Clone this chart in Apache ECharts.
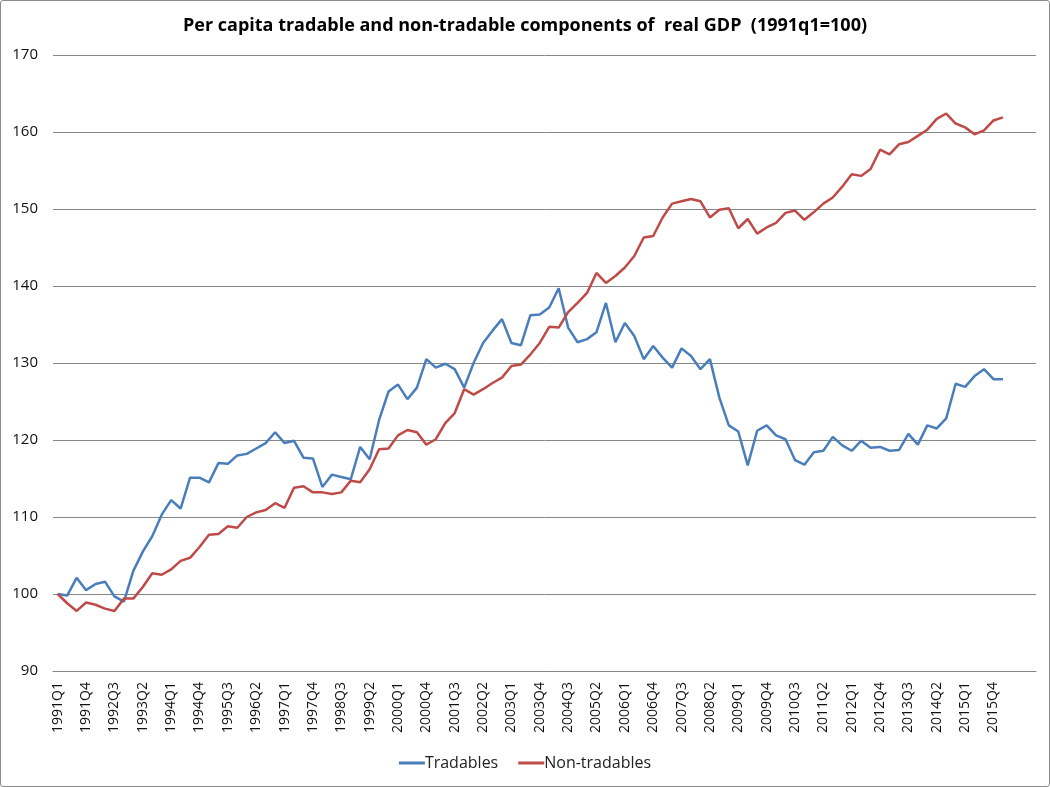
<!DOCTYPE html>
<html>
<head>
<meta charset="utf-8">
<script src="https://cdn.jsdelivr.net/npm/echarts@6/dist/echarts.min.js"></script>
<style>
html,body{margin:0;padding:0;background:#fff;}
#frame{position:absolute;left:0;top:0;width:1048px;height:785px;border:1px solid #8a8a8a;border-radius:3px;}
#chart{position:absolute;left:0;top:0;width:1050px;height:787px;}
</style>
</head>
<body>
<div id="frame"></div>
<div id="chart"></div>
<script>
// Quarterly categories 1991Q1..2016Q1, plus empty trailing slots on the axis
const startYear = 1991, endYear = 2016, endQuarter = 1;
const categories = [];
for (let y = startYear; y <= endYear; y++) {
  for (let q = 1; q <= 4; q++) {
    if (y === endYear && q > endQuarter) break;
    categories.push(y + 'Q' + q);
  }
}
const trailingBlank = ['', '', ''];
const axisCategories = categories.concat(trailingBlank);

const tradables = [
  100.0, 99.8, 102.1, 100.5, 101.3, 101.6, 99.7, 99.0, 103.0, 105.5,
  107.5, 110.3, 112.2, 111.1, 115.1, 115.1, 114.5, 117.0, 116.9, 118.0,
  118.2, 118.9, 119.6, 121.0, 119.6, 119.9, 117.7, 117.6, 113.9, 115.5,
  115.2, 114.9, 119.1, 117.5, 122.6, 126.3, 127.2, 125.3, 126.8, 130.5,
  129.4, 129.9, 129.2, 126.8, 130.0, 132.6, 134.2, 135.7, 132.6, 132.3,
  136.2, 136.3, 137.2, 139.7, 134.6, 132.7, 133.1, 134.0, 137.8, 132.7,
  135.2, 133.5, 130.5, 132.2, 130.7, 129.4, 131.9, 130.9, 129.2, 130.5,
  125.5, 121.9, 121.1, 116.7, 121.2, 121.9, 120.6, 120.1, 117.4, 116.8,
  118.4, 118.6, 120.4, 119.3, 118.6, 119.9, 119.0, 119.1, 118.6, 118.7,
  120.8, 119.4, 121.9, 121.5, 122.8, 127.3, 126.9, 128.3, 129.2, 127.9,
  127.9
];

const nonTradables = [
  100.0, 98.8, 97.8, 98.9, 98.6, 98.1, 97.8, 99.4, 99.4, 100.9,
  102.7, 102.5, 103.2, 104.3, 104.7, 106.1, 107.7, 107.8, 108.8, 108.6,
  110.0, 110.6, 110.9, 111.8, 111.2, 113.8, 114.0, 113.2, 113.2, 113.0,
  113.2, 114.7, 114.5, 116.2, 118.8, 118.9, 120.6, 121.3, 121.0, 119.4,
  120.1, 122.2, 123.5, 126.6, 125.9, 126.6, 127.4, 128.1, 129.6, 129.8,
  131.1, 132.6, 134.7, 134.6, 136.6, 137.8, 139.1, 141.7, 140.4, 141.3,
  142.4, 143.9, 146.3, 146.5, 148.9, 150.7, 151.0, 151.3, 151.0, 148.9,
  149.9, 150.1, 147.5, 148.7, 146.8, 147.6, 148.2, 149.5, 149.8, 148.6,
  149.6, 150.7, 151.5, 152.9, 154.5, 154.3, 155.2, 157.7, 157.1, 158.4,
  158.7, 159.5, 160.3, 161.7, 162.4, 161.1, 160.6, 159.7, 160.2, 161.5,
  161.9
];

const yMin = 90, yMax = 170, yStep = 10;
const titleText = 'Per capita tradable and non-tradable components of  real GDP  (1991q1=100)';
const seriesNames = ['Tradables', 'Non-tradables'];
const colors = ['#4a7ebb', '#be4b48'];

const chart = echarts.init(document.getElementById('chart'), null, {renderer: 'canvas'});
chart.setOption({
  animation: false,
  backgroundColor: 'transparent',
  color: colors,
  title: {
    text: titleText,
    left: 'center',
    top: 12,
    textStyle: {fontFamily: 'Open Sans', fontWeight: 'bold', fontSize: 18, color: '#000'}
  },
  legend: {
    data: seriesNames,
    bottom: 11,
    left: 'center',
    icon: 'rect',
    itemWidth: 26,
    itemHeight: 3,
    itemGap: 20,
    textStyle: {fontFamily: 'Open Sans', fontSize: 16, color: '#222', padding: [0, 0, 0, -5]}
  },
  grid: {left: 53, right: 14, top: 55, bottom: 116, containLabel: false},
  xAxis: {
    type: 'category',
    data: axisCategories,
    boundaryGap: true,
    axisLine: {show: true, lineStyle: {color: '#868686', width: 1}},
    axisTick: {show: false},
    axisLabel: {
      interval: 2,
      rotate: 90,
      margin: 11,
      fontFamily: 'Open Sans',
      fontSize: 14,
      color: '#111'
    },
    splitLine: {show: false}
  },
  yAxis: {
    type: 'value',
    min: yMin,
    max: yMax,
    interval: yStep,
    axisLine: {show: false},
    axisTick: {show: false},
    axisLabel: {fontFamily: 'Open Sans', fontSize: 15, color: '#111', margin: 15},
    splitLine: {show: true, lineStyle: {color: '#868686', width: 1}}
  },
  series: [
    {
      name: seriesNames[0],
      type: 'line',
      data: tradables,
      symbol: 'none',
      lineStyle: {width: 2.5, color: colors[0]},
      itemStyle: {color: colors[0]}
    },
    {
      name: seriesNames[1],
      type: 'line',
      data: nonTradables,
      symbol: 'none',
      lineStyle: {width: 2.5, color: colors[1]},
      itemStyle: {color: colors[1]}
    }
  ]
});
</script>
</body>
</html>
